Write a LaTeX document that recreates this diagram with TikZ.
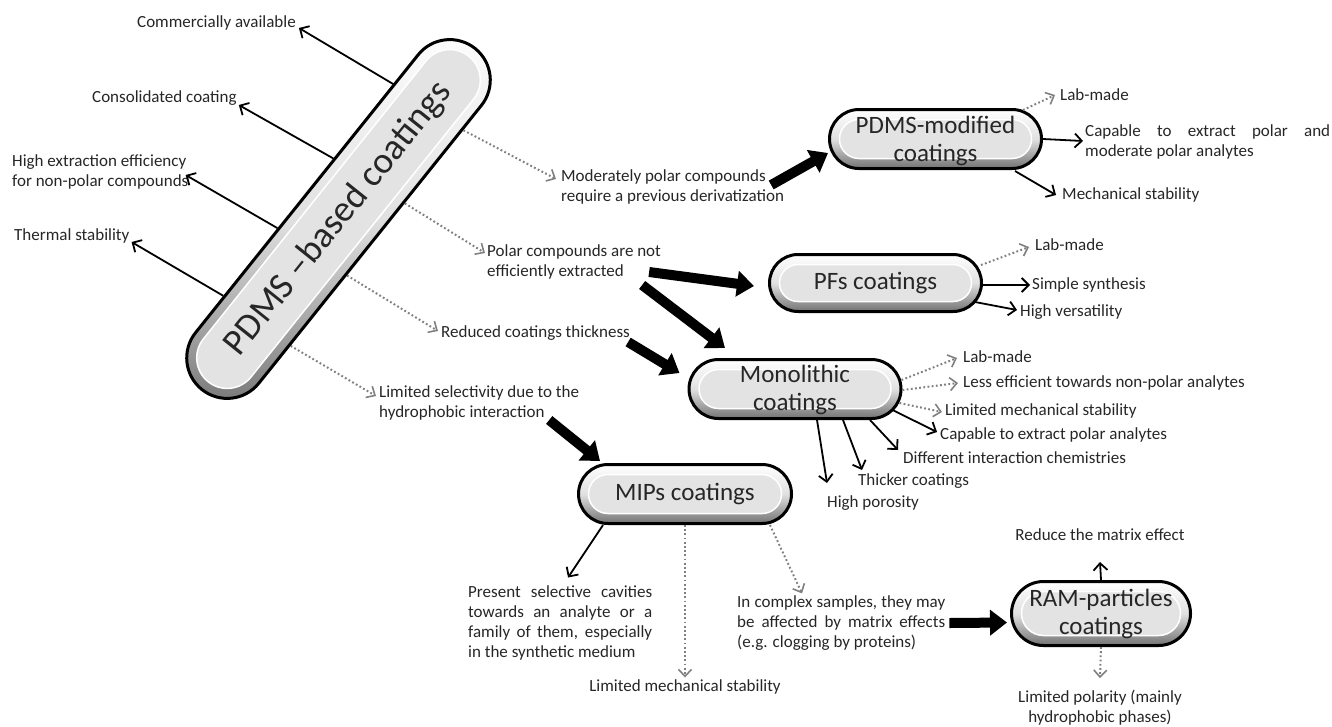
\documentclass[tikz,border=0pt]{standalone}
\usepackage{fontspec}
\setmainfont{Carlito}
\usetikzlibrary{arrows.meta,calc}
\tikzset{
  lbl/.style={font=\fontsize{17}{20}\selectfont, text=black!85, inner sep=0pt, anchor=west, align=left},
  jlbl/.style={font=\fontsize{17}{20}\selectfont, text=black!85, inner sep=0pt, anchor=west, align=justify},
  clbl/.style={font=\fontsize{17}{20}\selectfont, text=black!85, inner sep=0pt, align=center},
  blbl/.style={font=\fontsize{25}{28}\selectfont, text=black!85, inner sep=0pt, align=center},
  sarrow/.style={black, line width=1.8pt, -{Straight Barb[length=7pt,width=14pt,line width=1.8pt]}},
  darrow/.style={black!50, line width=2pt, dash pattern=on 1.8pt off 2.4pt, -{Straight Barb[length=7pt,width=13pt,line width=1.6pt]}},
  tarrow/.style={black, line width=10pt, -{Triangle[length=17pt,width=25pt]}},
  pillout/.style={draw=black, line width=3pt, top color=white, bottom color=black!55, middle color=black!12, inner sep=0pt},
  pillin/.style={draw=white, line width=1.5pt, fill=black!11, inner sep=0pt},
}
\newcommand\pillnode[8]{%
  \pgfmathsetmacro\pillW{#4}\pgfmathsetmacro\pillH{#5}\pgfmathsetmacro\pillR{#5/2}%
  \pgfmathsetmacro\pillIW{#4-20}\pgfmathsetmacro\pillIH{#5-20}\pgfmathsetmacro\pillIR{(#5-20)/2}%
  \node[pillout, minimum width=\pillW pt, minimum height=\pillH pt, rounded corners=\pillR pt, rotate=#6] (#1) at (#2,#3) {};
  \node[pillin, minimum width=\pillIW pt, minimum height=\pillIH pt, rounded corners=\pillIR pt, rotate=#6] (#1-in) at (#1.center) {};
  \node[blbl, rotate=#6, #8] (#1-lbl) at (#1.center) {#7};
}
\begin{document}
\begin{tikzpicture}[x=1pt, y=-1pt]
\useasboundingbox (0,0) rectangle (1332,726);

% boxes
\pillnode{pdms}{338.5}{219}{437}{81}{51.3}{PDMS –based coatings}{font=\fontsize{37}{40}\selectfont}
\pillnode{mod}{935.5}{139}{212}{59}{0}{PDMS-modified\\coatings}{yshift=-2pt}
\pillnode{pfs}{875.5}{283}{212}{57}{0}{PFs coatings}{}
\pillnode{mono}{795}{389}{212}{59}{0}{Monolithic\\coatings}{yshift=-1pt}
\pillnode{mips}{685}{494}{213}{59}{0}{MIPs coatings}{}
\pillnode{ram}{1101}{613.5}{179}{64}{0}{RAM-particles\\coatings}{}

% left texts
\node[lbl] (ca) at (137,23) {Commercially available};
\node[lbl] (cc) at (92,98) {Consolidated coating};
\node[lbl] (he) at (12,172) {High extraction efficiency\\for non-polar compounds};
\node[lbl] (ts) at (14,236) {Thermal stability};

% texts after PDMS-based
\node[lbl] (mp) at (561,187) {Moderately polar compounds\\require a previous derivatization};
\node[lbl] (pc) at (487,262) {Polar compounds are not\\efficiently extracted};
\node[lbl] (rc) at (441,333) {Reduced coatings thickness};
\node[lbl] (ls) at (379,403) {Limited selectivity due to the\\hydrophobic interaction};

% PDMS-modified texts
\node[lbl] (lab1) at (1060,95) {Lab-made};
\node[jlbl, text width=245pt] (cap1) at (1085,142) {Capable to extract polar and\linebreak moderate polar analytes};
\node[lbl] (ms) at (1062,195) {Mechanical stability};

% PFs texts
\node[lbl] (lab2) at (1035,245) {Lab-made};
\node[lbl] (ss) at (1032,285) {Simple synthesis};
\node[lbl] (hv) at (1020,312) {High versatility};

% Monolithic texts
\node[lbl] (lab3) at (963,357) {Lab-made};
\node[lbl] (le) at (963,383) {Less efficient towards non-polar analytes};
\node[lbl] (lms) at (945,411) {Limited mechanical stability};
\node[lbl] (cpa) at (940,435) {Capable to extract polar analytes};
\node[lbl] (dic) at (903,458) {Different interaction chemistries};
\node[lbl] (tc) at (858,481) {Thicker coatings};
\node[lbl] (hp) at (827,503) {High porosity};

% MIPs texts
\node[jlbl, text width=184pt] (ps) at (468,623) {Present selective cavities\linebreak towards an analyte or a\linebreak family of them, especially\linebreak in the synthetic medium};
\node[clbl] (lms2) at (685,687) {Limited mechanical stability};
\node[jlbl, text width=208pt] (ic) at (737,623) {In complex samples, they may\linebreak be affected by matrix effects\linebreak (e.g. clogging by proteins)};

% RAM texts
\node[clbl] (rme) at (1100,535) {Reduce the matrix effect};
\node[clbl] (lp) at (1100,708) {Limited polarity (mainly\\hydrophobic phases)};

% arrows from PDMS-based (north side: solid)
\draw[sarrow] ($(pdms.north west)!0.817!(pdms.north east)$) -- ($(ca.east)+(3,5)$);
\draw[sarrow] ($(pdms.north west)!0.60!(pdms.north east)$) -- ($(cc.east)+(2,7)$);
\draw[sarrow] ($(pdms.north west)!0.397!(pdms.north east)$) -- ($(he.east)+(-3,3)$);
\draw[sarrow] ($(pdms.north west)!0.20!(pdms.north east)$) -- ($(ts.east)+(2,6)$);
% south side: dotted
\draw[darrow] ($(pdms.south west)!0.835!(pdms.south east)$) -- ($(mp.west)+(-5,-8)$);
\draw[darrow] ($(pdms.south west)!0.622!(pdms.south east)$) -- ($(pc.west)+(-2,-9)$);
\draw[darrow] ($(pdms.south west)!0.412!(pdms.south east)$) -- ($(rc.west)+(-3,-2)$);
\draw[darrow] ($(pdms.south west)!0.207!(pdms.south east)$) -- ($(ls.west)+(-3,-7)$);

% thick arrows
\draw[tarrow] ($(mp.east)+(-13,-2)$) -- ($(mod.west)+(0,14)$);
\draw[tarrow] ($(pc.east)+(-12,10)$) -- ($(pfs.west)+(-14,3)$);
\draw[tarrow] ($(pc.east)+(-19,23)$) -- ($(mono.north)+(-70,-10)$);
\draw[tarrow] ($(rc.east)+(-2,9)$) -- ($(mono.west)+(-8,-16)$);
\draw[tarrow] ($(ls.east)+(-30,17)$) -- ($(mips.north west)+(23,-2)$);
\draw[tarrow] ($(ic.east)+(4,0)$) -- ($(ram.west)+(-3,9)$);

% PDMS-modified arrows
\draw[darrow] ($(mod.north east)+(-20,2)$) -- ($(lab1.west)+(-5,0)$);
\draw[sarrow] (mod.east) -- ($(cap1.west)+(-2,-1)$);
\draw[sarrow] ($(mod.south east)+(-28,1)$) -- ($(ms.west)+(-6,0)$);

% PFs arrows
\draw[darrow] ($(pfs.east)+(-2,-18)$) -- ($(lab2.west)+(-6,2)$);
\draw[sarrow] ($(pfs.east)+(0,2)$) -- ($(ss.west)+(-2,0)$);
\draw[sarrow] ($(pfs.east)+(-8,19)$) -- ($(hv.west)+(-3,-2)$);

% Monolithic arrows
\draw[darrow] ($(mono.east)+(-1,-9)$) -- ($(lab3.west)+(-6,1)$);
\draw[darrow] ($(mono.east)+(0,1)$) -- ($(le.west)+(-5,0)$);
\draw[darrow] ($(mono.east)+(-3,14)$) -- ($(lms.west)+(-3,1)$);
\draw[sarrow] ($(mono.east)+(-10,21)$) -- ($(cpa.west)+(-3,-3)$);
\draw[sarrow] ($(mono.south)+(75,0)$) -- ($(dic.west)+(-5,-8)$);
\draw[sarrow] ($(mono.south)+(48,0)$) -- ($(tc.west)+(4,-11)$);
\draw[sarrow] ($(mono.south)+(22,0)$) -- ($(hp.west)+(0,-20)$);

% MIPs arrows
\draw[sarrow] ($(mips.south)+(-82,0)$) -- ($(ps.north west)+(100,-8)$);
\draw[darrow] (mips.south) -- ($(lms2.north)+(0,-2)$);
\draw[darrow] ($(mips.south)+(85,0)$) -- ($(ic.north west)+(65,-2)$);

% RAM arrows
\draw[sarrow] (ram.north) -- ($(rme.center)+(0,27)$);
\draw[darrow] (ram.south) -- ($(lp.north)+(0,-12)$);
\end{tikzpicture}
\end{document}
